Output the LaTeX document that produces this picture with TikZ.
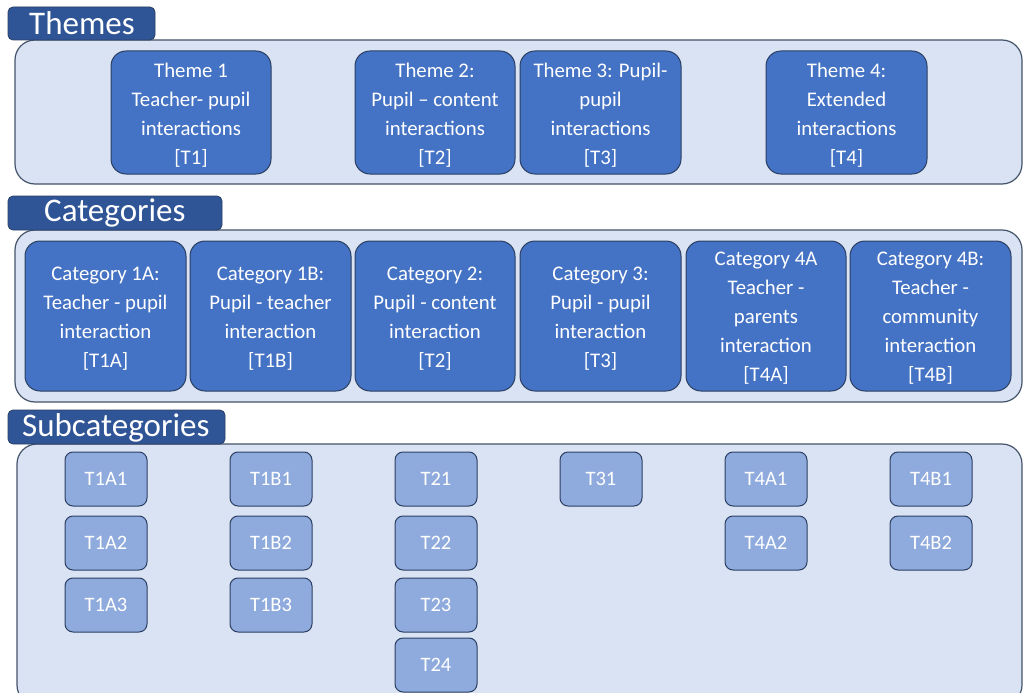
\documentclass[tikz,border=0pt]{standalone}
\usepackage{fontspec}
\setmainfont{Carlito}
\definecolor{labelblue}{HTML}{2F5597}
\definecolor{nodeblue}{HTML}{4472C4}
\definecolor{contfill}{HTML}{DAE3F3}
\definecolor{subfill}{HTML}{8FAADC}
\definecolor{edgedark}{HTML}{2B3F63}
\definecolor{contedge}{HTML}{44546A}
\begin{document}
\begin{tikzpicture}[x=1pt,y=-1pt,
  sectlabel/.style={fill=labelblue,draw=edgedark,line width=0.8pt,rounded corners=5pt},
  sectfont/.style={text=white,font=\fontsize{33}{35}\selectfont,anchor=west,inner sep=0pt},
  container/.style={fill=contfill,draw=contedge,line width=1.2pt,rounded corners=20pt},
  bignode/.style={fill=nodeblue,draw=edgedark,line width=1pt,rounded corners=15pt,text=white,align=center,font=\fontsize{20.8}{29}\selectfont,inner sep=0pt},
  subnode/.style={fill=subfill,draw=edgedark,line width=1pt,rounded corners=8pt,text=white,font=\fontsize{20.5}{24}\selectfont,inner sep=0pt}
]
\useasboundingbox (0,0) rectangle (1028,693);
\fill[white] (0,0) rectangle (1028,693);

% Themes
\draw[container] (15,40) rectangle (1022,184);
\draw[sectlabel] (8,7) rectangle (155,40);
\node[sectfont] (lthemes) at (29,23) {Themes};
\draw[bignode] (111,51) rectangle (271,174);
\node[bignode,draw=none,fill=none] (t1) at (191,115) {Theme 1\\Teacher- pupil\\interactions\\{[T1]}};
\draw[bignode] (355,51) rectangle (515,174);
\node[bignode,draw=none,fill=none] (t2) at (435,115) {Theme 2:\\Pupil -- content\\interactions\\{[T2]}};
\draw[bignode] (520,51) rectangle (681,174);
\node[bignode,draw=none,fill=none] (t3) at (600.5,115) {Theme 3: Pupil-\\pupil\\interactions\\{[T3]}};
\draw[bignode] (766,51) rectangle (927,174);
\node[bignode,draw=none,fill=none] (t4) at (846.5,115) {Theme 4:\\Extended\\interactions\\{[T4]}};

% Categories
\draw[container] (15,230) rectangle (1022,402);
\draw[sectlabel] (8,196) rectangle (222,230);
\node[sectfont] (lcat) at (44,213) {Categories};
\draw[bignode] (25,241) rectangle (186,391);
\node[bignode,draw=none,fill=none] (c1a) at (105.5,318.5) {Category 1A:\\Teacher - pupil\\interaction\\{[T1A]}};
\draw[bignode] (190,241) rectangle (351,391);
\node[bignode,draw=none,fill=none] (c1b) at (270.5,318.5) {Category 1B:\\Pupil - teacher\\interaction\\{[T1B]}};
\draw[bignode] (355,241) rectangle (515,391);
\node[bignode,draw=none,fill=none] (c2) at (435,318.5) {Category 2:\\Pupil - content\\interaction\\{[T2]}};
\draw[bignode] (520,241) rectangle (681,391);
\node[bignode,draw=none,fill=none] (c3) at (600.5,318.5) {Category 3:\\Pupil - pupil\\interaction\\{[T3]}};
\draw[bignode] (686,241) rectangle (846,391);
\node[bignode,draw=none,fill=none] (c4a) at (766,318) {Category 4A\\Teacher -\\parents\\interaction\\{[T4A]}};
\draw[bignode] (850,241) rectangle (1011,391);
\node[bignode,draw=none,fill=none] (c4b) at (930.5,318) {Category 4B:\\Teacher -\\community\\interaction\\{[T4B]}};

% Subcategories
\draw[container] (17,444) rectangle (1022,705);
\draw[sectlabel] (8,410) rectangle (225,444);
\node[sectfont] (lsub) at (22,428) {Subcategories};

\foreach \nm/\cx/\cy in {T1A1/106/479, T1A2/106/543, T1A3/106/605,
  T1B1/271/479, T1B2/271/543, T1B3/271/605,
  T21/436/479, T22/436/543, T23/436/605, T24/436/665,
  T31/601/479, T4A1/766/479, T4A2/766/543, T4B1/931/479, T4B2/931/543}{
  \draw[subnode] (\cx-41,\cy-27) rectangle (\cx+41,\cy+27);
  \node[subnode,draw=none,fill=none] (s\nm) at (\cx,\cy) {\nm};
}
\end{tikzpicture}
\end{document}
